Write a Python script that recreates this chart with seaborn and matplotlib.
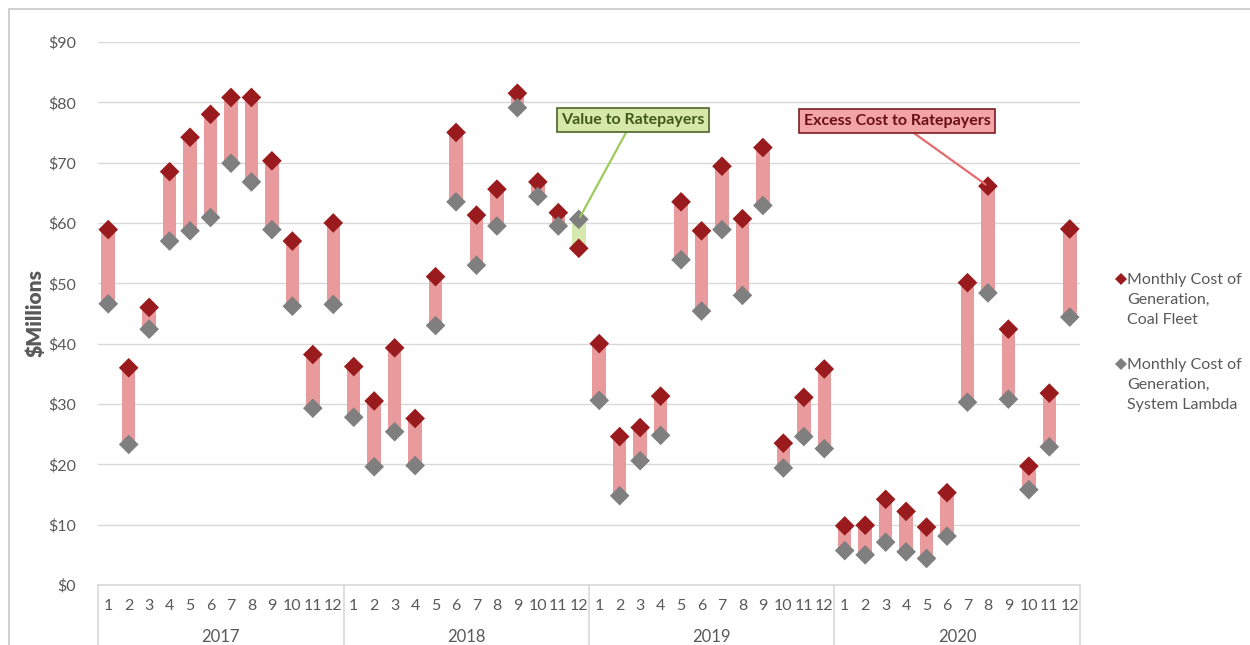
import numpy as np
import pandas as pd
import matplotlib
matplotlib.use("Agg")
import matplotlib.pyplot as plt
import seaborn as sns
from matplotlib.patches import Rectangle
from matplotlib.transforms import blended_transform_factory

# ---- data -------------------------------------------------------------
years = ["2017", "2018", "2019", "2020"]
months = [str(m) for m in range(1, 13)]

# Monthly cost of generation, $ millions
coal_fleet = [
    58.9, 36.0, 46.0, 68.5, 74.2, 78.0, 80.8, 80.8, 70.3, 57.0, 38.2, 60.0,   # 2017
    36.2, 30.5, 39.3, 27.6, 51.1, 75.0, 61.3, 65.6, 81.5, 66.8, 61.7, 55.8,   # 2018
    40.0, 24.6, 26.1, 31.3, 63.5, 58.7, 69.4, 60.7, 72.5, 23.5, 31.1, 35.8,   # 2019
    9.8, 9.9, 14.2, 12.2, 9.6, 15.3, 50.1, 66.1, 42.4, 19.7, 31.8, 59.0,      # 2020
]
system_lambda = [
    46.6, 23.3, 42.4, 57.0, 58.7, 60.9, 69.9, 66.8, 58.9, 46.2, 29.3, 46.5,   # 2017
    27.8, 19.6, 25.4, 19.8, 43.0, 63.5, 53.0, 59.5, 79.1, 64.4, 59.5, 60.6,   # 2018
    30.6, 14.8, 20.6, 24.8, 53.9, 45.4, 58.9, 48.0, 62.9, 19.4, 24.6, 22.6,   # 2019
    5.7, 5.0, 7.1, 5.5, 4.4, 8.1, 30.3, 48.4, 30.8, 15.8, 22.9, 44.4,         # 2020
]

coal_label = "Monthly Cost of\nGeneration,\nCoal Fleet"
lambda_label = "Monthly Cost of\nGeneration,\nSystem Lambda"

# ---- style ------------------------------------------------------------
sns.set_theme(style="white")
plt.rcParams["font.family"] = ["Lato", "DejaVu Sans"]
TEXT = "#595959"
GRID = "#D9D9D9"

fig = plt.figure(figsize=(12.5, 6.45), dpi=100)
ax = fig.add_axes([0.0784, 0.093, 0.7856, 0.842])

n = len(coal_fleet)
idx = np.arange(n)
coal = np.array(coal_fleet)
lam = np.array(system_lambda)
low = np.minimum(coal, lam)
high = np.maximum(coal, lam)

# floating range bars: red where coal costs more, green where it costs less
bar_colors = np.where(coal >= lam, "#E99A9D", "#D5E8AE")
ax.bar(idx, high - low, bottom=low, width=0.66, color=bar_colors, zorder=2, linewidth=0)

df = pd.DataFrame({
    "month": np.tile(idx, 2),
    "cost": np.concatenate([coal, lam]),
    "series": [coal_label] * n + [lambda_label] * n,
})
sns.scatterplot(
    data=df, x="month", y="cost", hue="series",
    palette={coal_label: "#9A1B1E", lambda_label: "#7F7F7F"},
    marker="D", s=100, linewidth=0, ax=ax, zorder=3,
)

# ---- axes -------------------------------------------------------------
ax.set_xlim(-0.5, n - 0.5)
ax.set_ylim(0, 90)
ax.set_yticks(np.arange(0, 91, 10))
ax.set_yticklabels([f"${v}" for v in range(0, 91, 10)])
ax.yaxis.grid(True, color=GRID, linewidth=1)
ax.set_axisbelow(True)
for side in ("left", "right", "top"):
    ax.spines[side].set_visible(False)
ax.spines["bottom"].set_color(GRID)
ax.spines["bottom"].set_linewidth(1.2)

ax.set_xticks(idx)
ax.set_xticklabels(months * len(years))
ax.tick_params(axis="x", length=0, pad=10, labelsize=11.5, labelcolor=TEXT)
ax.tick_params(axis="y", length=0, pad=16, labelsize=11.5, labelcolor=TEXT)
ax.set_xlabel("")
ax.set_ylabel("$Millions", fontsize=15, fontweight="heavy", color=TEXT, labelpad=2)

# year group labels and separators below the axis
trans = blended_transform_factory(ax.transData, ax.transAxes)
for k, yr in enumerate(years):
    ax.text(12 * k + 5.5, -0.095, yr, transform=trans, ha="center", va="center",
            fontsize=12, color=TEXT)
for k in range(len(years) + 1):
    ax.plot([12 * k - 0.5, 12 * k - 0.5], [0, -0.13], transform=trans,
            color=GRID, linewidth=1.2, clip_on=False)

# ---- callouts ---------------------------------------------------------
ax.annotate(
    "Value to Ratepayers", xy=(23, lam[23]), xytext=(25.65, 77.1),
    ha="center", va="center", fontsize=11.5, fontweight="bold", color="#3E5A1E",
    bbox=dict(boxstyle="square,pad=0.3", fc="#D7E9A9", ec="#4F6228", lw=1.2),
    arrowprops=dict(arrowstyle="-", color="#9CCB5B", lw=1.6, shrinkA=0, shrinkB=2),
    zorder=5,
)
ax.annotate(
    "Excess Cost to Ratepayers", xy=(43, coal[43]), xytext=(38.56, 76.9),
    ha="center", va="center", fontsize=11.5, fontweight="bold", color="#6A1015",
    bbox=dict(boxstyle="square,pad=0.3", fc="#F2A4A7", ec="#7B1E22", lw=1.2),
    arrowprops=dict(arrowstyle="-", color="#E36A6E", lw=1.6, shrinkA=0, shrinkB=2),
    zorder=5,
)

# ---- legend -----------------------------------------------------------
handles, labels = ax.get_legend_handles_labels()
for h in handles:
    h.set_markersize(6)
leg = ax.legend(
    handles, labels, loc="upper left", bbox_to_anchor=(1.021, 0.601),
    frameon=False, fontsize=11.5, labelcolor=TEXT, labelspacing=1.95,
    handletextpad=0.0, handlelength=0.75,
)
for t in leg.get_texts():
    t.set_multialignment("left")
    t.set_linespacing(1.55)
for col in leg._legend_handle_box.get_children():
    for row in col.get_children():
        row.align = "top"

# thin outer frame
fig.patches.append(Rectangle((0.0072, -0.1), 1.1, 1.086, transform=fig.transFigure,
                             fill=False, edgecolor="#C8C8C8", linewidth=1.2))

fig.savefig("out.png", dpi=100)
